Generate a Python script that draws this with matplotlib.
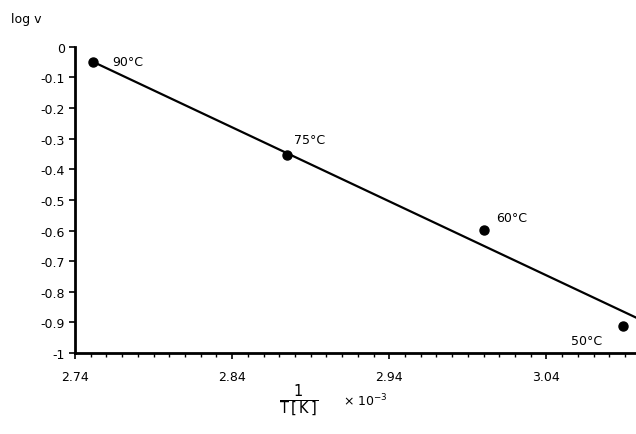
import numpy as np
import matplotlib
matplotlib.use('Agg')
import matplotlib.pyplot as plt
from matplotlib.ticker import MultipleLocator

#-----------------------
# Data
#-----------------------

invT   = [2.7515, 2.875, 3.000, 3.089]    # 1/T [K] x 10^-3
logv   = [-0.049, -0.353, -0.598, -0.912]  # log v
labels = ['90°C', '75°C', '60°C', '50°C']

fit_x = [2.7515, 3.097]  # regression line ends
fit_y = [-0.049, -0.884]

xticks = [2.74, 2.84, 2.94, 3.04]
yticks = [0, -0.1, -0.2, -0.3, -0.4, -0.5, -0.6, -0.7, -0.8, -0.9, -1]
yticklabels = ['0', '-0.1', '-0.2', '-0.3', '-0.4', '-0.5', '-0.6', '-0.7', '-0.8', '-0.9', '-1']

#-----------------------
# Plot
#-----------------------

fs = 9
fig = plt.figure(figsize=(6.36, 4.35), dpi=100)
ax = fig.add_axes([0.118, 0.186, 0.882, 0.704])

ax.plot(fit_x, fit_y, 'k-', lw=1.6)
ax.plot(invT, logv, 'ko', ms=6.5)

offs = [(14, 0), (5, 11), (9, 9), (-38, -10)]
for x, y, s, o in zip(invT, logv, labels, offs):
    ax.annotate(s, (x, y), xytext=o, textcoords='offset points',
                fontsize=fs, va='center', ha='left')

ax.set_xlim([2.74, 3.097]); ax.set_ylim([-1, 0])
ax.set_xticks(xticks)
ax.xaxis.set_minor_locator(MultipleLocator(0.01))
ax.set_yticks(yticks)
ax.set_yticklabels(yticklabels)
ax.tick_params(axis='both', labelsize=fs, width=1.2, length=4, direction='out')
ax.tick_params(axis='x', which='minor', width=1.0, length=3)
ax.tick_params(axis='x', pad=8)

for sp in ['top', 'right']:
    ax.spines[sp].set_visible(False)
for sp in ['left', 'bottom']:
    ax.spines[sp].set_linewidth(2)

fig.text(0.018, 0.955, 'log v', fontsize=fs, va='center', ha='left')
fig.text(0.438, 0.078, r'$\frac{1}{\mathrm{T\,[\,K\,]}}$', fontsize=fs+6, va='center', ha='left')
fig.text(0.54, 0.078, r'$\times\ \mathrm{10}^{-3}$', fontsize=fs, va='center', ha='left')

plt.savefig('out.png', dpi=100)
